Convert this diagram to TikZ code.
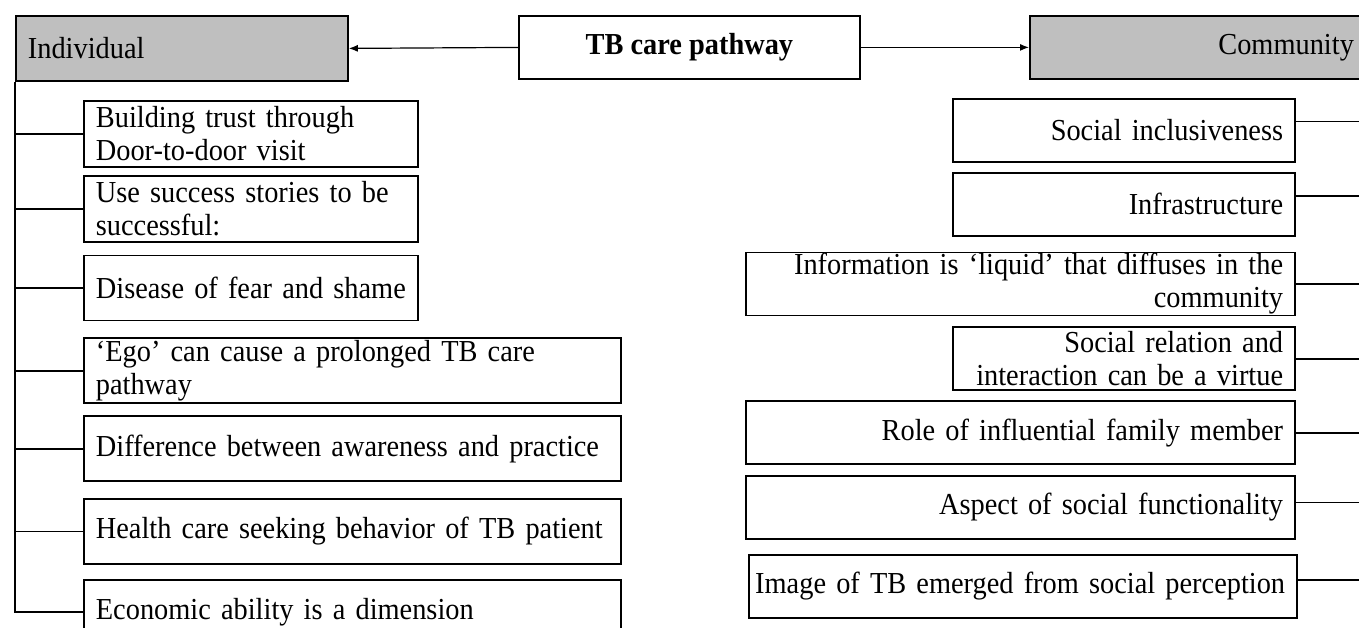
\documentclass[tikz,border=0pt]{standalone}
\usepackage{fontspec}
\setmainfont[FakeStretch=0.93]{Liberation Serif}
\usetikzlibrary{positioning,arrows.meta}
\definecolor{headgray}{RGB}{191,191,191}
\hyphenpenalty=10000
\exhyphenpenalty=10000

\begin{document}
\begin{tikzpicture}[x=1pt,y=-1pt,
        every node/.style={font=\fontsize{30.5}{33}\selectfont},
        box/.style={draw,line width=1.8pt,inner xsep=12pt,inner ysep=0pt},
        lbox/.style={box,align=left,text width=#1,minimum height=65pt},
        rbox/.style={box,align=right,text width=#1,minimum height=63pt},
        head/.style={box,fill=headgray,minimum height=65pt},
        arr/.style={line width=1.2pt,-{Latex[length=9pt,width=7pt]}},
        conn/.style={line width=1.8pt}]
    \path[use as bounding box,clip] (0,0) rectangle (1359,627);

    \node[head,anchor=north west,align=left,text width=308pt] (ind) at (15,15) {Individual};
    \node[box,anchor=north west,minimum width=341pt,minimum height=63pt,font=\fontsize{30.5}{33}\selectfont\bfseries] (tb) at (518,15) {TB care pathway};
    \node[head,anchor=north west,align=right,text width=312pt,minimum height=63pt] (com) at (1029,15) {Community};

    \draw[arr] (tb.west) -- (ind.east);
    \draw[arr] (tb.east) -- (com.west);

    \node[lbox=310pt,minimum height=66pt,anchor=north west] (i1) at (83,100) {Building trust through\\Door-to-door visit};
    \node[lbox=310pt,minimum height=66pt,below=7pt of i1.south west,anchor=north west] (i2) {Use success stories to be\\successful:};
    \node[lbox=310pt,below=12pt of i2.south west,anchor=north west] (i3) {Disease of fear and shame};
    \node[lbox=513pt,below=16pt of i3.south west,anchor=north west] (i4) {‘Ego’ can cause a prolonged TB care\\pathway};
    \node[lbox=513pt,below=11pt of i4.south west,anchor=north west] (i5) {Difference between awareness and practice};
    \node[lbox=513pt,below=16pt of i5.south west,anchor=north west] (i6) {Health care seeking behavior of TB patient};
    \node[lbox=513pt,below=14pt of i6.south west,anchor=north west] (i7) {Economic ability is a dimension};

    \draw[conn] (ind.south west) |- (i7.west);
    \foreach \n in {1,...,6}
        \draw[conn] (ind.south west |- i\n.west) -- (i\n.west);

    \node[rbox=318pt,anchor=north east] (c1) at (1296,98) {Social inclusiveness};
    \node[rbox=318pt,below=9pt of c1.south east,anchor=north east] (c2) {Infrastructure};
    \node[rbox=525pt,below=15pt of c2.south east,anchor=north east] (c3) {Information is ‘liquid’ that diffuses in the\\community};
    \node[rbox=318pt,below=10pt of c3.south east,anchor=north east] (c4) {Social relation and\\interaction can be a virtue};
    \node[rbox=525pt,below=9pt of c4.south east,anchor=north east] (c5) {Role of influential family member};
    \node[rbox=525pt,below=10pt of c5.south east,anchor=north east] (c6) {Aspect of social functionality};
    \node[rbox=524pt,below=14pt of c6.south east,anchor=north east,xshift=2pt] (c7) {\hspace*{-20pt}Image of TB emerged from social perception};

    \coordinate (edge) at (1359,0);
    \draw[conn] ([yshift=9pt]c1.east) -- ([yshift=9pt]c1.east -| edge);
    \draw[conn] ([yshift=8pt]c2.east) -- ([yshift=8pt]c2.east -| edge);
    \foreach \n in {3,4,5}
        \draw[conn] (c\n.east) -- (c\n.east -| edge);
    \draw[conn] ([yshift=5pt]c6.east) -- ([yshift=5pt]c6.east -| edge);
    \draw[conn] ([yshift=6pt]c7.east) -- ([yshift=6pt]c7.east -| edge);
\end{tikzpicture}
\end{document}
